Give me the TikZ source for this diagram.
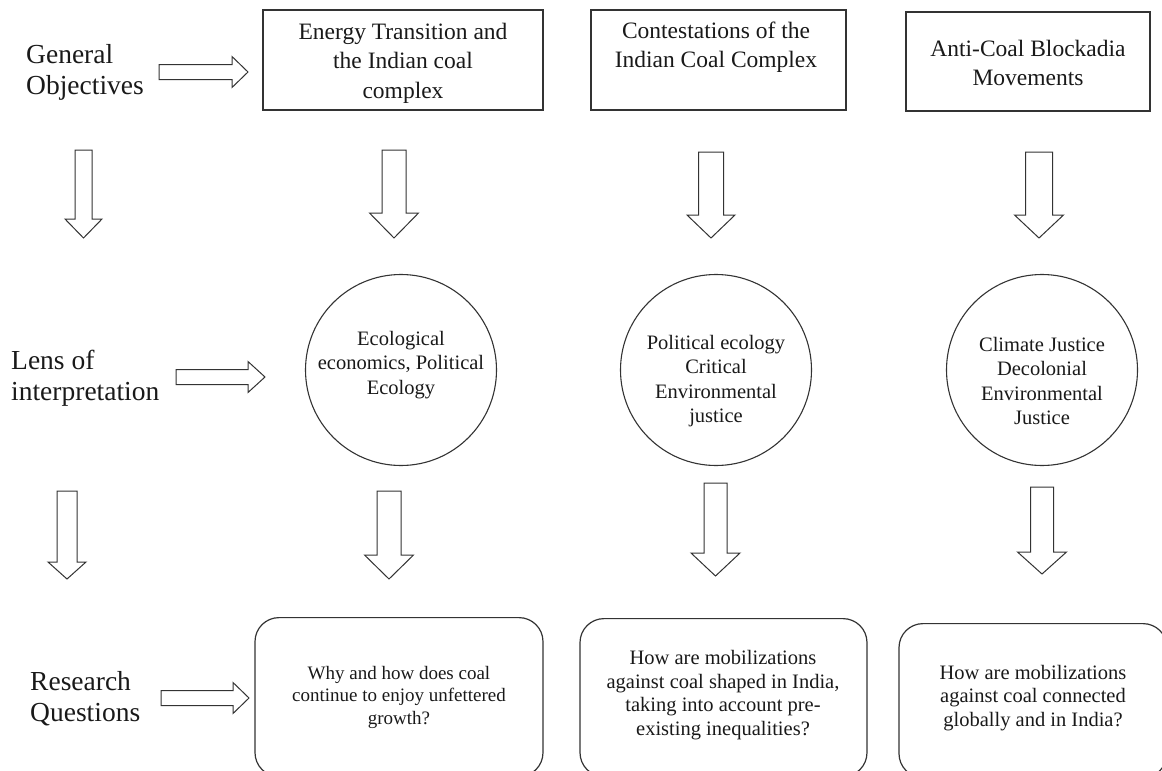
\documentclass[tikz,border=0pt]{standalone}
\usepackage{fontspec}
\setmainfont{Liberation Serif}
\tikzset{
  every node/.style={inner sep=0pt, text=black!90},
  sidelab/.style={font=\fontsize{27.5}{31}\selectfont, align=left, anchor=west},
  topbox/.style={draw=black!80, line width=1.2pt, rectangle},
  toptext/.style={font=\fontsize{23.5}{29.5}\selectfont, align=center},
  lensc/.style={draw=black!80, line width=1.1pt, circle, minimum size=191pt},
  lenstext/.style={font=\fontsize{20.5}{24.5}\selectfont, align=center},
  qbox/.style={draw=black!80, line width=1.2pt, rectangle, rounded corners=24pt, anchor=north},
  qtext/.style={font=\fontsize{20.5}{23.5}\selectfont, align=center},
  blk/.style={draw=black!80, line width=1pt, fill=white, line join=miter},
}
% #1 centre x, #2 top y, #3 head base y, #4 tip y, #5 shaft half width, #6 head half width
\newcommand\blkdown[6]{\draw[blk] ({#1-#5},#2) -- ({#1+#5},#2) -- ({#1+#5},#3) -- ({#1+#6},#3) -- (#1,#4) -- ({#1-#6},#3) -- ({#1-#5},#3) -- cycle;}
% #1 start x, #2 head base x, #3 tip x, #4 centre y, #5 shaft half, #6 head half
\newcommand\blkright[6]{\draw[blk] (#1,{#4-#5}) -- (#2,{#4-#5}) -- (#2,{#4-#6}) -- (#3,#4) -- (#2,{#4+#6}) -- (#2,{#4+#5}) -- (#1,{#4+#5}) -- cycle;}
\begin{document}
\begin{tikzpicture}[x=1pt,y=-1pt]
\useasboundingbox (0,0) rectangle (1162,771);

% side labels
\node[sidelab] (go) at (26,72) {General\\Objectives};
\node[sidelab] (li) at (11,378) {Lens of\\interpretation};
\node[sidelab] (rq) at (30,699) {Research\\Questions};

% top boxes
\node[topbox, minimum width=280pt, minimum height=100pt] (b1) at (403,60) {};
\node[toptext] (t1) at (403,63) {Energy Transition and\\the Indian coal\\complex};
\node[topbox, minimum width=255pt, minimum height=100pt] (b2) at (718.5,60) {};
\node[toptext] (t2) at (716,47) {Contestations of the\\Indian Coal Complex};
\node[topbox, minimum width=244pt, minimum height=99pt] (b3) at (1028,61.5) {};
\node[toptext] (t3) at (1028,63) {Anti-Coal Blockadia\\Movements};

% circles
\node[lensc] (c1) at (401,370) {};
\node[lenstext] (l1) at (401,365) {Ecological\\economics, Political\\Ecology};
\node[lensc] (c2) at (716,370) {};
\node[lenstext] (l2) at (716,381) {Political ecology\\Critical\\Environmental\\justice};
\node[lensc] (c3) at (1042,370) {};
\node[lenstext] (l3) at (1042,381) {Climate Justice\\Decolonial\\Environmental\\Justice};

% bottom boxes
\node[qbox, minimum width=288pt, minimum height=159pt] (q1) at (399,617) {};
\node[qtext, font=\fontsize{19}{22.5}\selectfont] (r1) at (399,697) {Why and how does coal\\continue to enjoy unfettered\\growth?};
\node[qbox, minimum width=287pt, minimum height=158pt] (q2) at (723.5,618) {};
\node[qtext] (r2) at (723,695) {How are mobilizations\\against coal shaped in India,\\taking into account pre-\\existing inequalities?};
\node[qbox, minimum width=268pt, minimum height=154pt] (q3) at (1033,623) {};
\node[qtext] (r3) at (1033,698) {How are mobilizations\\against coal connected\\globally and in India?};

% horizontal block arrows
\blkright{159}{232}{248}{72}{7.5}{15.5}
\blkright{176}{248}{265}{377}{7.5}{15.5}
\blkright{161}{233}{249}{698}{7.5}{15.5}

% down block arrows, first row
\blkdown{83.5}{150}{219}{238}{8.5}{18.5}
\blkdown{394}{150}{213}{238}{12}{24.5}
\blkdown{711}{152}{215}{238}{12.5}{24}
\blkdown{1039}{152}{215}{238}{13.5}{24.5}
% down block arrows, second row
\blkdown{67}{491}{562}{579}{10}{19}
\blkdown{389}{491}{555}{579}{12}{24.5}
\blkdown{715.5}{483}{553}{576}{11.5}{24.5}
\blkdown{1042}{487}{552}{574}{11.5}{24.5}
\end{tikzpicture}
\end{document}
